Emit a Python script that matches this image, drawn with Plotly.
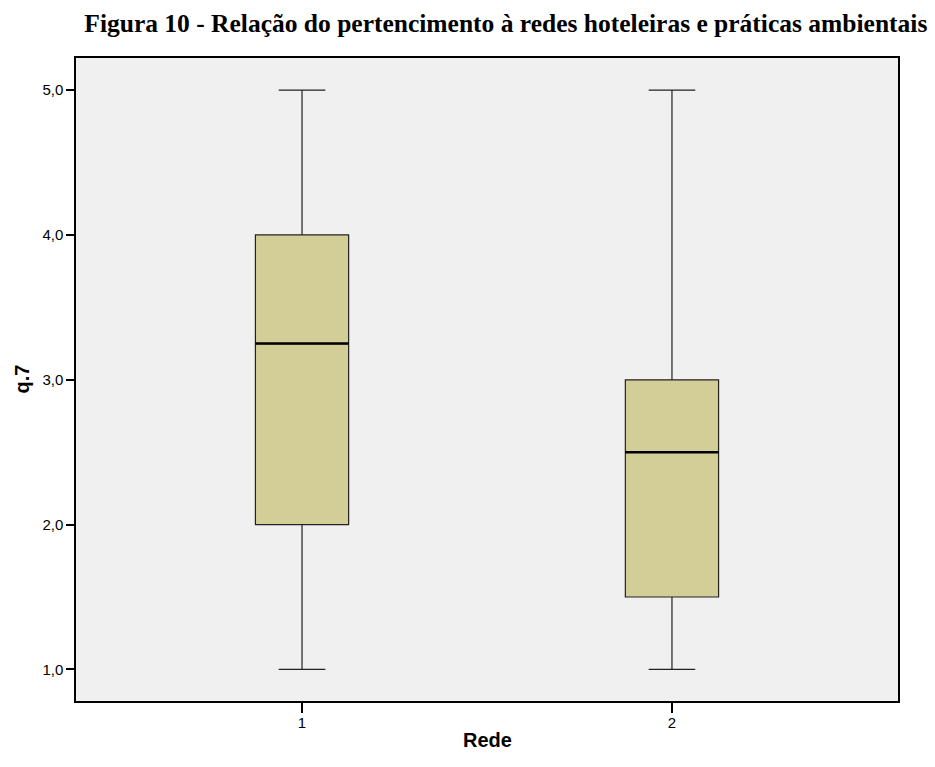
import plotly.graph_objects as go

categories = [1, 2]
tick_labels = ["1", "2"]
lower_whisker = [1.0, 1.0]
q1 = [2.0, 1.5]
median = [3.25, 2.5]
q3 = [4.0, 3.0]
upper_whisker = [5.0, 5.0]
y_ticks = [1.0, 2.0, 3.0, 4.0, 5.0]

box_w = 0.252
fig = go.Figure()
fig.add_trace(go.Box(
    x=categories, q1=q1, median=median, q3=q3,
    lowerfence=lower_whisker, upperfence=upper_whisker,
    width=box_w, whiskerwidth=0.5,
    fillcolor="#d3ce97",
    line=dict(color="#222222", width=1.2),
    boxpoints=False, hoverinfo="skip", showlegend=False,
))
for c, m in zip(categories, median):
    fig.add_trace(go.Scatter(
        x=[c - box_w / 2, c + box_w / 2], y=[m, m], mode="lines",
        line=dict(color="black", width=2.5), showlegend=False, hoverinfo="skip",
    ))

fig.update_layout(
    width=935, height=767,
    margin=dict(l=76, r=37, t=58, b=66, autoexpand=False),
    paper_bgcolor="white", plot_bgcolor="#f0f0f0",
    separators=",.",
    title=dict(
        text="<b>Figura 10 - Relação do pertencimento à redes hoteleiras e práticas ambientais</b>",
        font=dict(family="Liberation Serif", size=25.5, color="black"),
        x=0.541, xanchor="center", y=0.970, yanchor="middle",
    ),
    font=dict(family="Liberation Sans", color="black"),
    annotations=[
        dict(text="<b>Rede</b>", xref="paper", yref="paper", x=0.5, y=-0.061,
             xanchor="center", yanchor="middle", showarrow=False,
             font=dict(size=20, color="black")),
        dict(text="<b>q.7</b>", xref="paper", yref="paper", x=-0.0669, y=0.5,
             xanchor="center", yanchor="middle", showarrow=False, textangle=-90,
             font=dict(size=20, color="black")),
    ],
)
fig.update_xaxes(
    range=[0.389, 2.611], tickvals=categories, ticktext=tick_labels,
    ticks="outside", ticklen=10, tickwidth=2, tickcolor="black",
    tickfont=dict(size=15), showgrid=False, zeroline=False, automargin=False,
    showline=True, linecolor="black", linewidth=1.5, mirror=True,
    ticklabelstandoff=-3,
)
fig.update_yaxes(
    range=[0.782, 5.222], tickvals=y_ticks, tickformat=".1f",
    ticks="outside", ticklen=8, tickwidth=2, tickcolor="black",
    tickfont=dict(size=15), showgrid=False, zeroline=False, automargin=False,
    showline=True, linecolor="black", linewidth=1.5, mirror=True,
)
fig.write_html("out.html")
